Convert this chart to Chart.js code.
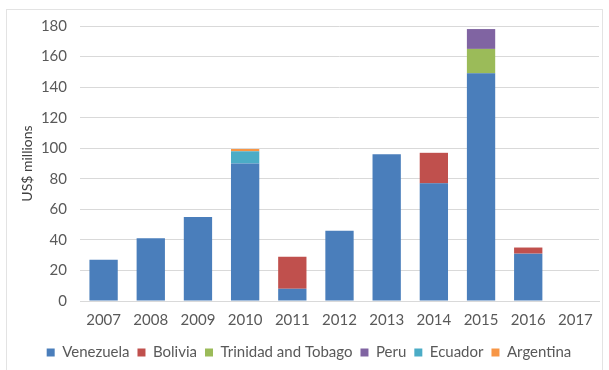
<!DOCTYPE html>
<html>
<head>
<meta charset="utf-8">
<script src="https://cdn.jsdelivr.net/npm/chart.js@4/dist/chart.umd.min.js"></script>
<style>
  html, body { margin: 0; padding: 0; background: #ffffff; }
  #wrap { position: relative; width: 609px; height: 370px; }
  #frame { position: absolute; left: 6px; top: 9px; width: 597px; height: 370px; border: 1px solid #e3e3e3; box-sizing: border-box; }
  canvas { position: absolute; left: 0; top: 0; }
</style>
</head>
<body>
<div id="wrap">
  <div id="frame"></div>
  <canvas id="c" width="609" height="370"></canvas>
</div>
<script>
const years = ['2007','2008','2009','2010','2011','2012','2013','2014','2015','2016','2017'];
const venezuela = [27, 41, 55, 90, 8, 46, 96, 77, 149, 31, null];
const bolivia   = [null, null, null, null, 21, null, null, 20, null, 4, null];
const trinidad  = [null, null, null, null, null, null, null, null, 16, null, null];
const peru      = [null, null, null, null, null, null, null, null, 13, null, null];
const ecuador   = [null, null, null, 8, null, null, null, null, null, null, null];
const argentina = [null, null, null, 1.5, null, null, null, null, null, null, null];
const yTicks = [0, 20, 40, 60, 80, 100, 120, 140, 160, 180];

const font = "Lato, 'Open Sans', sans-serif";
const textColor = '#595959';

function ds(label, data, color) {
  return { label, data, backgroundColor: color, borderWidth: 0, barPercentage: 0.6, categoryPercentage: 1.0 };
}

new Chart(document.getElementById('c'), {
  type: 'bar',
  data: {
    labels: years,
    datasets: [
      ds('Venezuela', venezuela, '#4a7ebb'),
      ds('Bolivia', bolivia, '#c0504d'),
      ds('Trinidad and Tobago', trinidad, '#9bbb59'),
      ds('Peru', peru, '#8064a2'),
      ds('Ecuador', ecuador, '#4bacc6'),
      ds('Argentina', argentina, '#f79646')
    ]
  },
  options: {
    responsive: false,
    animation: false,
    layout: { padding: { left: 19, right: 10, top: 26, bottom: 0 } },
    plugins: {
      legend: {
        position: 'bottom',
        labels: { boxWidth: 8, boxHeight: 8, color: textColor, font: { family: font, size: 15 }, padding: 8 }
      },
      tooltip: { enabled: false }
    },
    scales: {
      x: {
        stacked: true,
        grid: { display: false, drawTicks: false },
        border: { color: '#d9d9d9' },
        afterFit: (s) => { s.height = 36; },
        ticks: { color: textColor, font: { family: font, size: 15 }, padding: 10 }
      },
      y: {
        stacked: true,
        min: 0, max: 180,
        afterBuildTicks: (s) => { s.ticks = yTicks.map(v => ({ value: v })); },
        afterFit: (s) => { s.width = 61; },
        grid: { color: '#d9d9d9', drawTicks: false },
        border: { display: false },
        ticks: { color: textColor, font: { family: font, size: 15 }, padding: 13 },
        title: { display: true, text: 'US$ millions', color: '#404040', font: { family: font, size: 14 }, padding: { top: 0, bottom: 0 } }
      }
    }
  }
});
</script>
</body>
</html>
